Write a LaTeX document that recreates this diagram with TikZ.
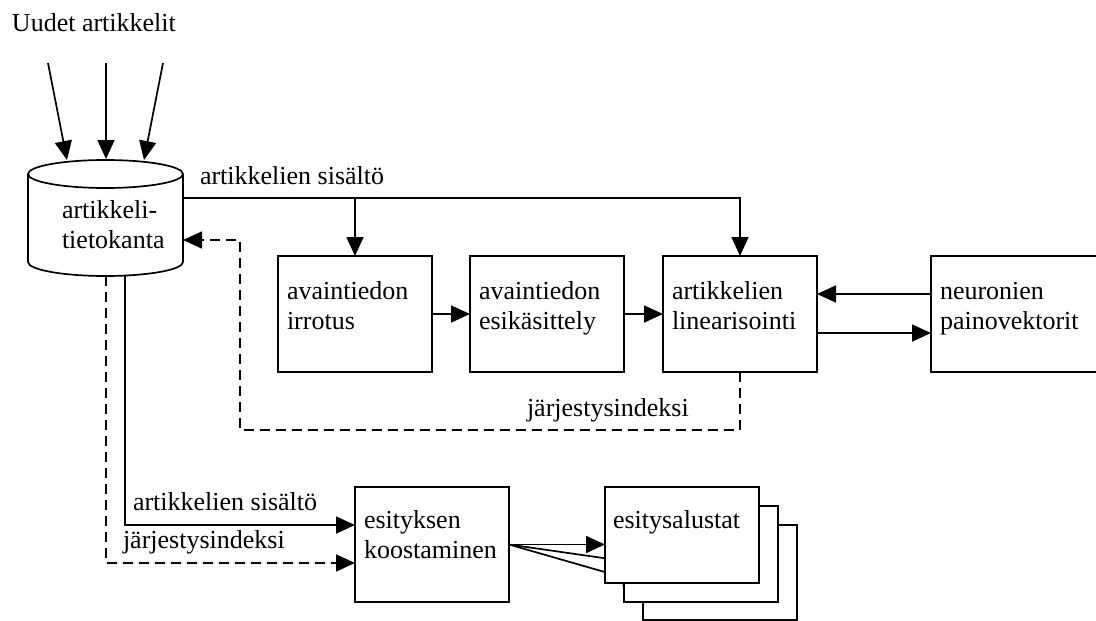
\documentclass[tikz,border=0pt]{standalone}
\usepackage{fontspec}
\setmainfont{Liberation Serif}
\usetikzlibrary{arrows.meta,calc,backgrounds}
\newcommand{\mystrut}{\rule{0pt}{20pt}}
\begin{document}
\begin{tikzpicture}[x=1pt,y=-1pt,
  line width=1.7pt,
  every node/.style={font=\fontsize{26}{30}\selectfont, inner sep=0pt, outer sep=0pt},
  arr/.style={line width=1.7pt, -{Triangle[length=19pt,width=17pt]}},
  dsh/.style={dash pattern=on 10pt off 6pt},
  procbox/.style={draw, fill=white, minimum width=154pt, minimum height=116pt, anchor=north west},
  stackbox/.style={draw, fill=white, minimum width=154pt, minimum height=96pt, anchor=north west},
  txt/.style={anchor=north west, align=left},
  lbl/.style={anchor=base west},
]
\clip (0,0) rectangle (1096,621);

% database cylinder
\draw[fill=white] (28,174) -- (28,262) arc[start angle=180, end angle=360, x radius=77.5pt, y radius=14pt] -- (183,174);
\draw (105.5,174) ellipse[x radius=77.5pt, y radius=14pt];
\node[minimum width=155pt, minimum height=116pt] (db) at (105.5,218) {};
\node[txt] (dbt) at (62,198) {\mystrut artikkeli-\\tietokanta};

% incoming articles
\node[lbl] (uudet) at (12,31) {Uudet artikkelit};
\coordinate (i1) at (48,63);  \coordinate (t1) at (67,160);
\coordinate (i2) at (106,63); \coordinate (t2) at (106,159);
\coordinate (i3) at (163,63); \coordinate (t3) at (144,160);
\draw[arr] (i1) -- (t1);
\draw[arr] (i2) -- (t2);
\draw[arr] (i3) -- (t3);

% processing boxes
\node[procbox] (b1) at (278,256) {};
\node[procbox] (b2) at (470,256) {};
\node[procbox] (b3) at (663,256) {};
\node[procbox, minimum width=200pt] (b4) at (931,256) {};
\node[txt] (b1t) at ([xshift=9pt,yshift=-23pt]b1.north west) {\mystrut avaintiedon\\irrotus};
\node[txt] (b2t) at ([xshift=9pt,yshift=-23pt]b2.north west) {\mystrut avaintiedon\\esikäsittely};
\node[txt] (b3t) at ([xshift=9pt,yshift=-23pt]b3.north west) {\mystrut artikkelien\\linearisointi};
\node[txt] (b4t) at ([xshift=9pt,yshift=-23pt]b4.north west) {\mystrut neuronien\\painovektorit};

% article content line
\coordinate (s1) at ([yshift=20pt]db.east);
\node[lbl] (sis1) at (200,184) {artikkelien sisältö};
\draw[arr] (s1) -- (s1 -| b3.north) -- (b3.north);
\draw[arr] (s1 -| b1.north) -- (b1.north);

\draw[arr] (b1.east) -- (b2.west);
\draw[arr] (b2.east) -- (b3.west);
\draw[arr] ([yshift=20pt]b4.west) -- ([yshift=20pt]b4.west -| b3.east);
\draw[arr] ([yshift=-19pt]b3.east) -- ([yshift=-19pt]b3.east -| b4.west);

% order index feedback
\coordinate (d1) at ([yshift=-22pt]db.east);
\coordinate (dc) at (240,430);
\draw[arr,dsh] (b3.south) |- (dc) |- (d1);
\node[lbl] (jarj1) at (527,416) {järjestysindeksi};

% presentation assembly
\node[procbox, minimum height=115pt] (b5) at (355,487) {};
\node[txt] (b5t) at ([xshift=9pt,yshift=-21pt]b5.north west) {\mystrut esityksen\\koostaminen};
\draw[arr] ([xshift=19.5pt]db.south) |- ([yshift=19.5pt]b5.west);
\draw[arr,dsh] ([xshift=0.5pt]db.south) |- ([yshift=-18.5pt]b5.west);
\node[lbl] (sis2) at (133,510) {artikkelien sisältö};
\node[lbl] (jarj2) at (123,548) {järjestysindeksi};

% stacked templates
\node[stackbox, minimum height=95pt] (f3) at (643,525) {};
\node[stackbox] (f2) at (624,506) {};
\node[stackbox] (f1) at (605,487) {};
\node[txt] (f1t) at ([xshift=8pt,yshift=-21pt]f1.north west) {\mystrut esitysalustat};
\begin{scope}[on background layer]
\draw[arr] (b5.east) -- (b5.east -| f1.west);
\draw[arr] (b5.east) -- ([yshift=-7pt]f2.west);
\draw[arr] (b5.east) -- ([yshift=-10.5pt]f3.west);
\end{scope}
\end{tikzpicture}
\end{document}
